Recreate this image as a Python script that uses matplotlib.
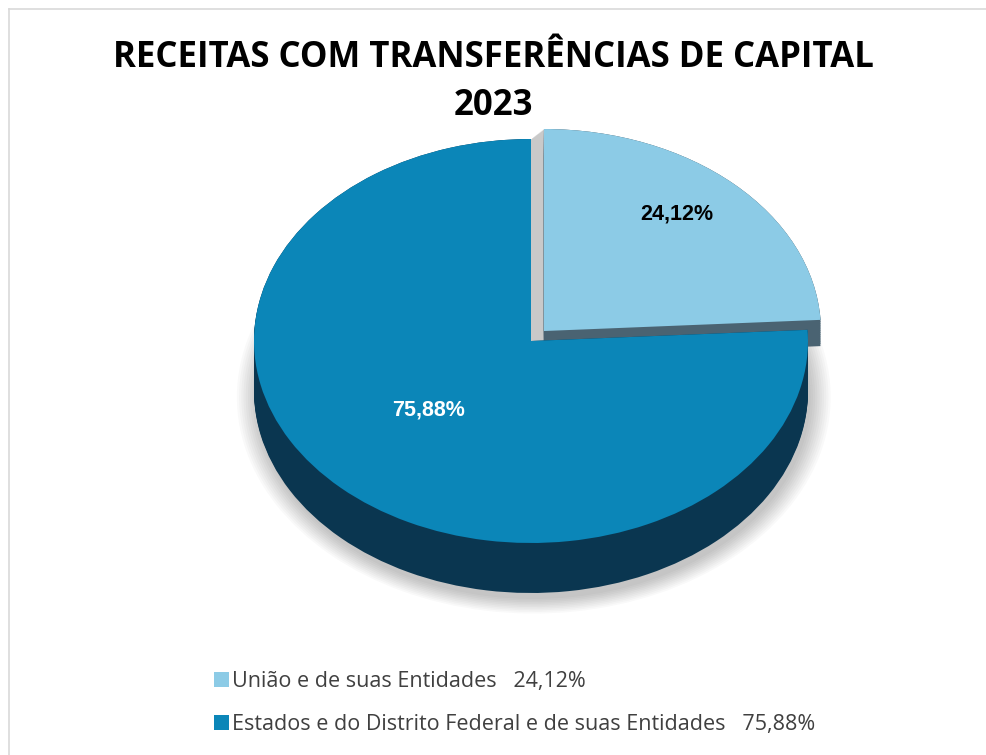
import matplotlib.pyplot as plt
from matplotlib.lines import Line2D

# dados
categorias = ["União e de suas Entidades", "Estados e do Distrito Federal e de suas Entidades"]
valores = [24.12, 75.88]
cores_topo = ["#8ccbe6", "#0b86b8"]
titulo = "RECEITAS COM TRANSFERÊNCIAS DE CAPITAL\n2023"

W, H = 986, 755
fig = plt.figure(figsize=(W / 100, H / 100), dpi=100)

# geometria do "3D" em pixels
cx, cy, rx, ry = 531, 341, 277, 202
depth = 50 / ry
xl, yl = (-1.1, 1.1), (-1.3, 1.1)
ax = fig.add_axes([(cx + xl[0] * rx) / W, (H - (cy - yl[0] * ry)) / H,
                   (xl[1] - xl[0]) * rx / W, (yl[1] - yl[0]) * ry / H])

explode = [0.068, 0]
fmt = lambda p: f"{p:.2f}%".replace(".", ",")

# sombra
for i in range(10):
    ax.pie(valores, startangle=90, counterclock=False,
           radius=1 + 0.008 * i, center=(0.01, -depth - 0.03),
           colors=["#000000", "#000000"], wedgeprops=dict(alpha=0.025, linewidth=0))

# lateral da fatia menor
n = 12
for k in range(n + 1):
    t = k / n
    ax.pie(valores, startangle=90, counterclock=False, explode=explode,
           center=(-0.047 * t, -0.05 * t), colors=["#c9c9c9", "none"],
           wedgeprops=dict(linewidth=0))
for k in range(n + 1):
    t = k / n
    ax.pie(valores, startangle=90, counterclock=False, explode=explode,
           center=(0, -0.13 * t), colors=["#4a6372", "none"],
           wedgeprops=dict(linewidth=0))

# lateral da fatia maior
n = 40
for k in range(n + 1):
    t = k / n
    ax.pie(valores, startangle=90, counterclock=False, explode=explode,
           center=(0, -depth * t), colors=["none", "#0a3650"],
           wedgeprops=dict(linewidth=0))

# topo
wedges, txts, pcts = ax.pie(valores, startangle=90, counterclock=False, explode=explode,
                            colors=["none", cores_topo[1]], autopct=fmt,
                            pctdistance=0.5, wedgeprops=dict(linewidth=0))
wedges2, _, _ = ax.pie(valores, startangle=90, counterclock=False, explode=explode,
                       colors=[cores_topo[0], "none"], autopct=lambda p: "",
                       wedgeprops=dict(linewidth=0))

pcts[0].set_position((0.525, 0.63))
pcts[1].set_position((-0.37, -0.34))
for t, c in zip(pcts, ["black", "white"]):
    t.set_color(c)
    t.set_fontsize(15.5)
    t.set_fontweight("bold")
    t.set_family("Liberation Sans")
    t.set_zorder(10)

ax.set_aspect("auto")
ax.set_xlim(*xl)
ax.set_ylim(*yl)
ax.axis("off")

fig.text(0.5, (H - 82) / H, titulo, ha="center", va="center", fontsize=25,
         fontweight="bold", family="Open Sans", linespacing=1.45)

rotulos = [f"{c}   {fmt(v)}" for c, v in zip(categorias, valores)]
handles = [wedges2[0], wedges[1]]
leg = fig.legend(handles, rotulos, loc="upper left", bbox_to_anchor=(195 / W, (H - 652) / H),
                 frameon=False, handlelength=0.7, handleheight=0.7, handletextpad=0.12,
                 labelspacing=1.0, prop=dict(family="Open Sans", size=15.5))
for t in leg.get_texts():
    t.set_color("#404040")

# borda
fig.add_artist(Line2D([9 / W, 1], [1 - 9 / H, 1 - 9 / H], color="#d9d9d9", lw=1.2))
fig.add_artist(Line2D([9 / W, 9 / W], [0, 1 - 9 / H], color="#d9d9d9", lw=1.2))

fig.savefig("out.png", dpi=100)
